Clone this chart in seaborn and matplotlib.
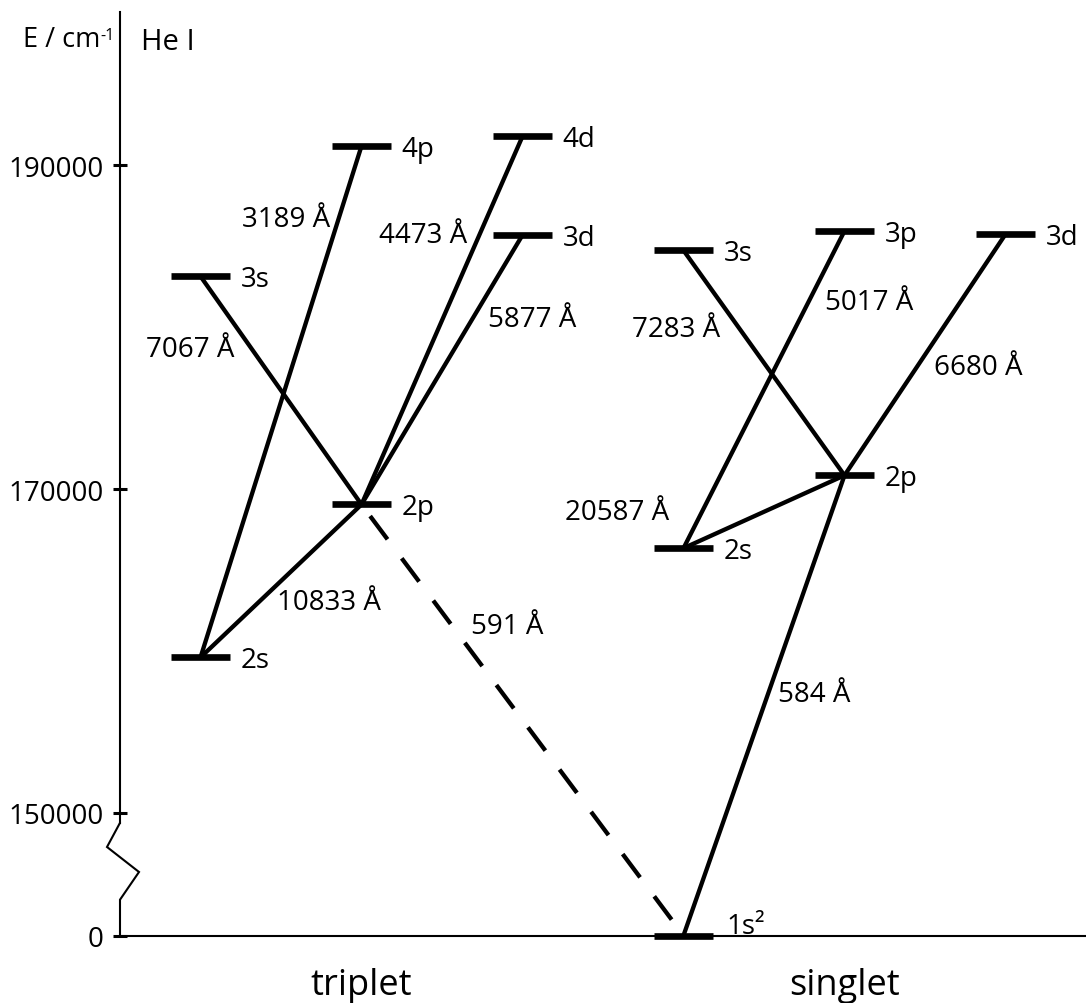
import numpy as np
import pandas as pd
import matplotlib
matplotlib.use("Agg")
import matplotlib.pyplot as plt
import seaborn as sns

# ---------------- data ----------------
level_ids = ["T2s", "T2p", "T3s", "T3d", "T4p", "T4d",
             "S1s", "S2s", "S2p", "S3s", "S3p", "S3d"]
level_names = ["2s", "2p", "3s", "3d", "4p", "4d",
               "1s²", "2s", "2p", "3s", "3p", "3d"]
level_column = [0, 1, 0, 2, 1, 2, 3, 3, 4, 3, 4, 5]
level_energy = [159600, 169050, 183150, 185700, 191200, 191800,
                0, 166350, 170850, 184750, 185950, 185750]

trans_lower = ["T2s", "T2p", "T2p", "T2p", "T2s",
               "S2s", "S2p", "S2p", "S2s", "S1s"]
trans_upper = ["T4p", "T4d", "T3d", "T3s", "T2p",
               "S3p", "S3s", "S3d", "S2p", "S2p"]
trans_label = ["3189 Å", "4473 Å", "5877 Å", "7067 Å", "10833 Å",
               "5017 Å", "7283 Å", "6680 Å", "20587 Å", "584 Å"]

forbidden_lower = ["S1s"]
forbidden_upper = ["T2p"]
forbidden_label = ["591 Å"]

group_names = ["triplet", "singlet"]
group_centers = [1, 4]

ytick_values = [0, 150000, 170000, 190000]
ytick_labels = ["0", "150000", "170000", "190000"]

# ---------------- layout (text anchors, not marks) ----------------
trans_label_xy = [(0.533, 186240), (1.384, 185289), (2.062, 180098),
                  (-0.064, 178245), (0.798, 162593), (4.152, 181130),
                  (2.952, 179481), (4.832, 177114), (2.590, 168154),
                  (3.811, 156927)]
forbidden_label_xy = [(1.907, 161110)]

Y_BOTTOM = 142418   # virtual position of E = 0 (broken axis)
Y_TOP = 199482
BREAK_TOP = 149400
HW = 0.186          # half width of a level bar (x units)

def ey(e):
    e = np.asarray(e, dtype=float)
    return np.where(e > 0, e, Y_BOTTOM)

# ---------------- style ----------------
sns.set_theme(style="white")
plt.rcParams["font.family"] = ["Open Sans", "DejaVu Sans"]
plt.rcParams["axes.edgecolor"] = "black"

fig = plt.figure(figsize=(10.86, 10.04), dpi=100)
ax = fig.add_axes([120 / 1086, (1004 - 936.5) / 1004,
                   (1086 - 120) / 1086, (936.5 - 13) / 1004])

lev = pd.DataFrame({"id": level_ids, "name": level_names,
                    "col": level_column, "E": level_energy})
lev["y"] = ey(lev["E"])
pos = lev.set_index("id")

# levels as short horizontal segments
lev_long = pd.concat([
    pd.DataFrame({"id": lev["id"], "x": lev["col"] - HW, "y": lev["y"]}),
    pd.DataFrame({"id": lev["id"], "x": lev["col"] + HW, "y": lev["y"]}),
])
sns.lineplot(data=lev_long, x="x", y="y", units="id", estimator=None,
             sort=False, color="black", linewidth=4.8,
             solid_capstyle="butt", clip_on=False, legend=False, ax=ax,
             zorder=4)

# allowed transitions
rows = []
for i, (lo, up) in enumerate(zip(trans_lower, trans_upper)):
    rows.append({"t": i, "x": pos.loc[lo, "col"], "y": pos.loc[lo, "y"]})
    rows.append({"t": i, "x": pos.loc[up, "col"], "y": pos.loc[up, "y"]})
tr = pd.DataFrame(rows)
sns.lineplot(data=tr, x="x", y="y", units="t", estimator=None, sort=False,
             color="black", linewidth=3.1, solid_capstyle="butt",
             legend=False, ax=ax, zorder=3)

# forbidden (intercombination) transition, dashed
rows = []
for i, (lo, up) in enumerate(zip(forbidden_lower, forbidden_upper)):
    rows.append({"t": i, "x": pos.loc[up, "col"], "y": pos.loc[up, "y"]})
    rows.append({"t": i, "x": pos.loc[lo, "col"], "y": pos.loc[lo, "y"]})
fb = pd.DataFrame(rows)
sns.lineplot(data=fb, x="x", y="y", units="t", estimator=None, sort=False,
             color="black", linewidth=3.1,
             linestyle=(8.9, (6.75, 5.5)), dash_capstyle="butt",
             legend=False, ax=ax, zorder=3)

# level labels
for _, r in lev.iterrows():
    off = (9, 2) if r["E"] == 0 else (7.5, -7.2)
    ax.annotate(r["name"], xy=(r["col"] + HW, r["y"]), xytext=off,
                textcoords="offset points", ha="left", va="baseline",
                fontsize=20, color="black", annotation_clip=False)

# wavelength labels
for lab, (x, y) in zip(trans_label + forbidden_label,
                       trans_label_xy + forbidden_label_xy):
    ax.text(x, y, lab, ha="center", va="baseline", fontsize=20,
            color="black")

# axes
ax.set_xlim(-0.5, 5.5)
ax.set_ylim(Y_BOTTOM, Y_TOP)
ax.set_xlabel("")
ax.set_ylabel("")
for s in ["top", "right"]:
    ax.spines[s].set_visible(False)
ax.spines["left"].set_linewidth(1.5)
ax.spines["bottom"].set_linewidth(1.5)
ax.spines["left"].set_bounds(BREAK_TOP, Y_TOP)

ax.set_yticks(ey(ytick_values), ytick_labels)
ax.tick_params(axis="y", direction="inout", length=9.4, width=2.2,
               labelsize=20, pad=7, colors="black", left=True)
ax.set_xticks(group_centers, group_names)
ax.tick_params(axis="x", length=0, labelsize=26, pad=23, colors="black")

# axis break (zigzag) and lower spine piece
bx = [-0.5, -0.5, -0.5 - 13 / 161, -0.5 + 19 / 161, -0.5, -0.5]
by = [BREAK_TOP, 149380, 147887, 146342, 144630, Y_BOTTOM]
ax.plot(bx, by, color="black", linewidth=1.5, clip_on=False,
        solid_joinstyle="miter", zorder=5)

# header texts
fig.text(100 / 1086, 1 - 46.7 / 1004, "E / cm", ha="right", va="baseline",
         fontsize=19.5, color="black")
fig.text(100.5 / 1086, 1 - 39.5 / 1004, "-1", ha="left", va="baseline",
         fontsize=11.5, color="black")
fig.text(141 / 1086, 1 - 49.5 / 1004, "He I", ha="left", va="baseline",
         fontsize=21, color="black")

fig.savefig("out.png", dpi=100)
